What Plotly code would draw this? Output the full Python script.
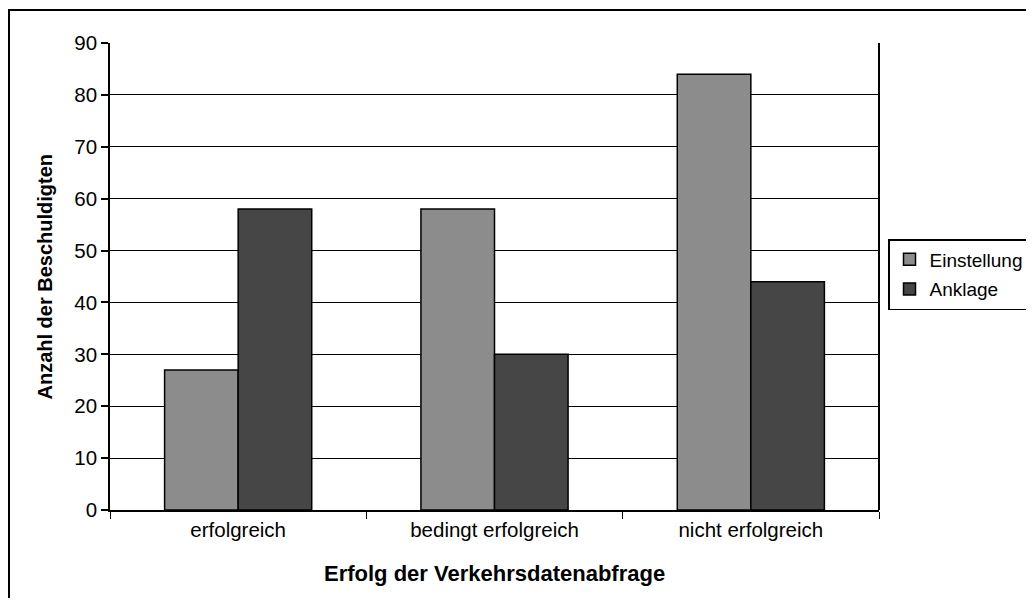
import plotly.graph_objects as go

categories = ["erfolgreich", "bedingt erfolgreich", "nicht erfolgreich"]
einstellung = [27, 58, 84]
anklage = [58, 30, 44]
y_ticks = [0, 10, 20, 30, 40, 50, 60, 70, 80, 90]

FONT = "Liberation Sans, Arial, sans-serif"

fig = go.Figure()
fig.add_trace(go.Bar(
    name="Einstellung", x=categories, y=einstellung,
    marker=dict(color="#8c8c8c", line=dict(color="black", width=1.5)),
    legendgroup="a",
))
fig.add_trace(go.Bar(
    name="Anklage", x=categories, y=anklage,
    marker=dict(color="#464646", line=dict(color="black", width=1.5)),
    legendgroup="b",
))

# figure pixel geometry (page has an 8px body offset)
W, H = 1018, 590
L, R, T, B = 102, 871, 35, 502
PW, PH = R - L, B - T

def px(x):
    return (x - L) / PW

def py(y):
    return (B - y) / PH

fig.update_layout(
    width=W, height=H, autosize=False,
    margin=dict(l=L, r=W - R, t=T, b=H - B, pad=0, autoexpand=False),
    paper_bgcolor="white", plot_bgcolor="white",
    barmode="group", bargap=0.426, bargroupgap=0,
    font=dict(family=FONT, size=20, color="black"),
    showlegend=True,
    legend=dict(
        x=px(880), xanchor="left",
        y=py(231), yanchor="top",
        bordercolor="black", borderwidth=1.5,
        font=dict(family=FONT, size=19, color="black"),
        tracegroupgap=2, itemwidth=30,
    ),
    xaxis=dict(
        showline=True, linecolor="black", linewidth=2, mirror=False,
        ticks="outside", ticklen=7, tickcolor="black", tickwidth=1,
        tickson="boundaries",
        tickfont=dict(size=20.5),
        showgrid=False,
    ),
    yaxis=dict(
        range=[0, 90], tickvals=y_ticks,
        showline=True, linecolor="black", linewidth=1.5,
        ticks="outside", ticklen=7, tickcolor="black", tickwidth=1.5,
        tickfont=dict(size=20.5),
        showgrid=True, gridcolor="black", gridwidth=1,
        zeroline=False,
    ),
    annotations=[
        dict(text="<b>Erfolg der Verkehrsdatenabfrage</b>", xref="paper", yref="paper",
             x=0.5, y=py(565), xanchor="center", yanchor="middle", showarrow=False,
             font=dict(size=22)),
        dict(text="<b>Anzahl der Beschuldigten</b>", xref="paper", yref="paper",
             x=px(36), y=0.5, xanchor="center", yanchor="middle", showarrow=False,
             textangle=-90, font=dict(size=20)),
    ],
    shapes=[
        # plot area right border
        dict(type="line", xref="paper", yref="paper", x0=1, x1=1, y0=0, y1=1,
             line=dict(color="black", width=2)),
        # outer chart border
        dict(type="rect", xref="paper", yref="paper",
             x0=px(1), x1=px(1100),
             y0=py(700), y1=py(2),
             line=dict(color="black", width=2), fillcolor="rgba(0,0,0,0)", layer="above"),
    ],
)

fig.write_html("out.html")
